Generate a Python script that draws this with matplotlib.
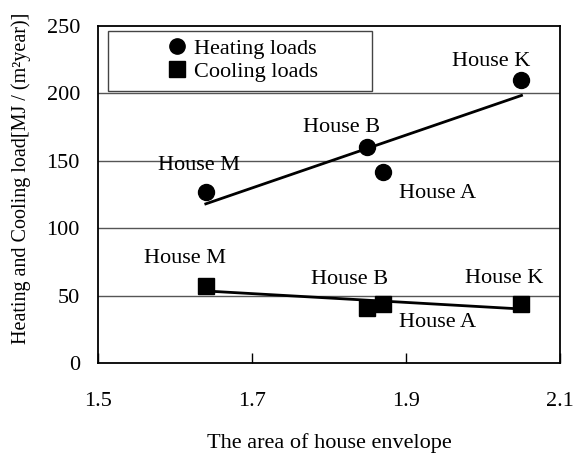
import numpy as np
import matplotlib
matplotlib.use("Agg")
import matplotlib.pyplot as plt
from matplotlib.patches import Rectangle

plt.rcParams['font.family'] = ['Liberation Serif', 'DejaVu Serif']
FS = 16

houses = ["House M", "House B", "House A", "House K"]
envelope = [1.64, 1.85, 1.87, 2.05]
heating = [127, 160, 142, 210]
cooling = [57, 41, 44, 44]
x_ticks = [1.5, 1.7, 1.9, 2.1]
y_ticks = [0, 50, 100, 150, 200, 250]

# label offsets (pixels) relative to each point
heat_offsets = [(-7, 26), (-26, 20), (55, -22), (-30, 18)]
cool_offsets = [(-21, 28), (-18, 28), (55, -19), (-17, 25)]

fig = plt.figure(figsize=(5.74, 4.53), dpi=100)
ax = fig.add_axes([98/574, 1-363/453, 462/574, 337/453])

ax.set_xlim(1.5, 2.1)
ax.set_ylim(0, 250)
ax.set_xticks(x_ticks)
ax.set_xticklabels([f"{v:.1f}" for v in x_ticks], fontsize=FS)
ax.set_yticks(y_ticks)
ax.set_yticklabels([str(v) for v in y_ticks], fontsize=FS)
ax.tick_params(axis='x', direction='in', length=7, width=1, pad=21)
ax.tick_params(axis='y', length=0, pad=13)
for s in ax.spines.values():
    s.set_linewidth(1.3)
for v in y_ticks[1:-1]:
    ax.axhline(v, color='#555555', lw=1.0, zorder=1)

xs = np.array(envelope)
for vals, mk, ms, offs in [(heating, 'o', 11.5, heat_offsets), (cooling, 's', 12, cool_offsets)]:
    ys = np.array(vals, dtype=float)
    k, b = np.polyfit(xs, ys, 1)
    xl = np.array([xs.min(), xs.max()])
    ax.plot(xl, k*xl + b, color='black', lw=2.0, zorder=3)
    ax.plot(xs, ys, linestyle='none', marker=mk, ms=ms, color='black', zorder=4)
    for name, x, y, o in zip(houses, envelope, vals, offs):
        ax.annotate(name, (x, y), xytext=o, textcoords='offset pixels',
                    ha='center', va='center', fontsize=FS, zorder=5)

# legend
ax.add_patch(Rectangle((10/462, (363-91)/337), (372-108)/462, 60/337,
                       transform=ax.transAxes, facecolor='white',
                       edgecolor='#444444', lw=1.0, zorder=6))
h1, = ax.plot([], [], 'o', color='black', ms=11, label='Heating loads')
h2, = ax.plot([], [], 's', color='black', ms=11, label='Cooling loads')
leg = ax.legend(handles=[h1, h2], loc='center', bbox_to_anchor=(0.314, 0.898),
                frameon=False, handlelength=0.8, handletextpad=0.35,
                labelspacing=0.12, fontsize=FS, borderpad=0)
leg.set_zorder(7)

ax.set_xlabel("The area of house envelope", fontsize=FS, labelpad=16)
fig.text(21/574, 1-178/453, "Heating and Cooling load[MJ / (m²year)]",
         rotation=90, ha='center', va='center', fontsize=14.5)

fig.savefig("out.png", dpi=100)
